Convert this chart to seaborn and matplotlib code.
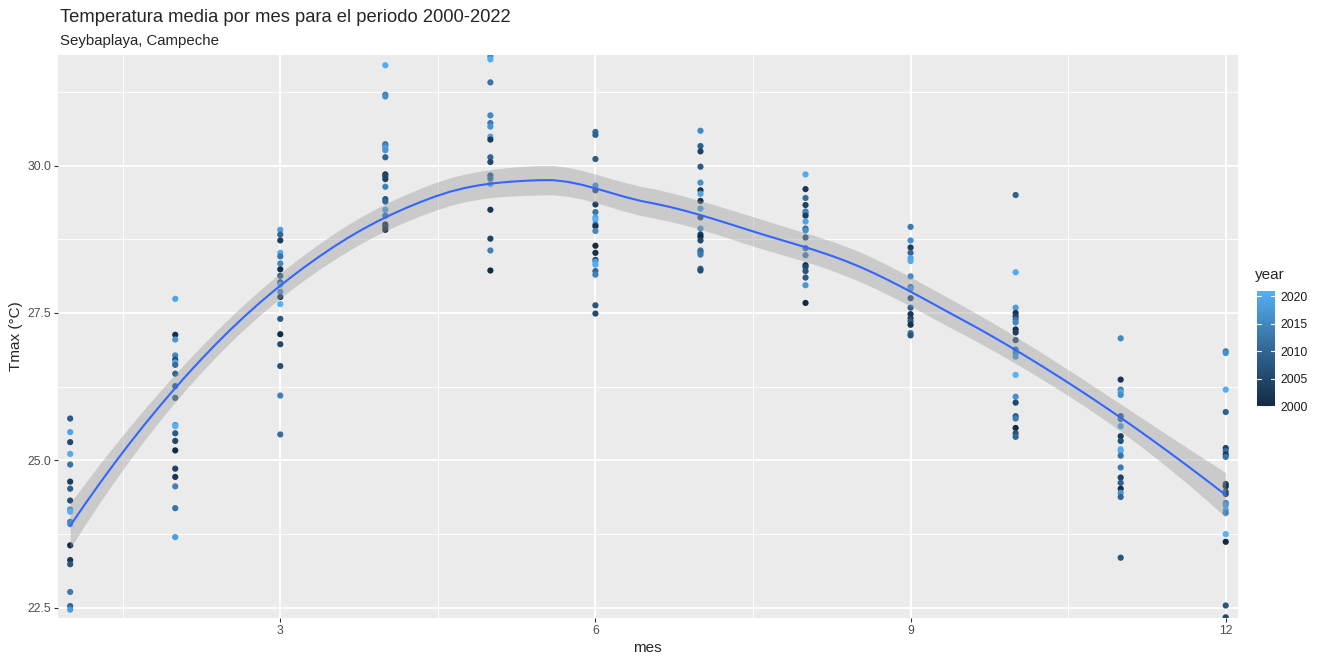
import numpy as np
import pandas as pd
import matplotlib
matplotlib.use("Agg")
import matplotlib.pyplot as plt
from matplotlib.colors import LinearSegmentedColormap
import seaborn as sns

# ---- data (monthly mean Tmax per year) ----
tmax_01 = [25.71, 25.48, 25.31, 25.11, 24.93, 24.64, 24.52, 24.32, 24.17, 24.13, 23.96, 23.92, 23.56, 23.31, 23.24, 22.77, 22.53, 22.47]
year_01 = [2008, 2019, 2005, 2020, 2012, 2003, 2009, 2006, 2017, 2021, 2014, 2016, 2000, 2002, 2007, 2013, 2010, 2018]
tmax_02 = [27.74, 27.13, 27.05, 26.78, 26.71, 26.66, 26.62, 26.47, 26.26, 26.06, 25.60, 25.58, 25.46, 25.33, 25.17, 24.86, 24.72, 24.56, 24.19, 23.70]
year_02 = [2019, 2001, 2017, 2015, 2006, 2020, 2011, 2010, 2007, 2009, 2016, 2021, 2008, 2005, 2000, 2004, 2002, 2014, 2012, 2018]
tmax_03 = [28.91, 28.83, 28.73, 28.52, 28.46, 28.34, 28.24, 28.13, 28.02, 27.98, 27.86, 27.77, 27.65, 27.40, 27.14, 26.97, 26.60, 26.10, 25.44]
year_03 = [2018, 2010, 2003, 2020, 2012, 2015, 2001, 2009, 2007, 2019, 2016, 2002, 2021, 2008, 2000, 2005, 2006, 2014, 2011]
tmax_04 = [31.70, 31.20, 31.17, 30.36, 30.33, 30.29, 30.26, 30.14, 29.85, 29.82, 29.77, 29.64, 29.43, 29.39, 29.25, 29.15, 29.00, 28.96, 28.91]
year_04 = [2020, 2013, 2016, 2011, 2015, 2019, 2017, 2009, 2002, 2005, 2004, 2014, 2007, 2010, 2018, 2012, 2001, 2003, 2000]
tmax_05 = [31.85, 31.80, 31.41, 30.85, 30.72, 30.66, 30.49, 30.44, 30.14, 30.06, 29.83, 29.78, 29.69, 29.25, 28.76, 28.56, 28.22]
year_05 = [2016, 2020, 2012, 2015, 2013, 2017, 2019, 2003, 2010, 2005, 2008, 2011, 2018, 2002, 2004, 2014, 2000]
tmax_06 = [30.57, 30.52, 30.11, 29.66, 29.58, 29.34, 29.21, 29.12, 29.08, 29.00, 28.97, 28.89, 28.64, 28.52, 28.40, 28.37, 28.32, 28.21, 28.15, 27.63, 27.49]
year_06 = [2011, 2009, 2008, 2016, 2006, 2003, 2012, 2019, 2021, 2013, 2002, 2015, 2000, 2001, 2004, 2018, 2020, 2010, 2014, 2007, 2005]
tmax_07 = [30.59, 30.33, 30.24, 29.98, 29.71, 29.58, 29.52, 29.40, 29.27, 29.12, 28.93, 28.83, 28.79, 28.73, 28.56, 28.53, 28.49, 28.25, 28.22]
year_07 = [2015, 2009, 2004, 2008, 2016, 2002, 2019, 2001, 2018, 2007, 2017, 2003, 2000, 2005, 2012, 2011, 2013, 2010, 2006]
tmax_08 = [29.85, 29.60, 29.45, 29.33, 29.22, 29.19, 29.15, 29.05, 28.93, 28.90, 28.78, 28.60, 28.48, 28.31, 28.28, 28.21, 28.10, 27.97, 27.67]
year_08 = [2020, 2002, 2011, 2004, 2013, 2015, 2003, 2019, 2010, 2016, 2006, 2012, 2014, 2001, 2005, 2007, 2008, 2017, 2000]
tmax_09 = [28.96, 28.73, 28.61, 28.52, 28.43, 28.38, 28.12, 27.94, 27.91, 27.75, 27.59, 27.48, 27.41, 27.36, 27.30, 27.16, 27.12]
year_09 = [2013, 2016, 2003, 2010, 2019, 2020, 2015, 2011, 2018, 2006, 2009, 2002, 2004, 2008, 2001, 2012, 2007]
tmax_10 = [29.50, 28.19, 27.59, 27.50, 27.44, 27.39, 27.34, 27.22, 27.17, 27.04, 26.88, 26.82, 26.76, 26.45, 26.08, 25.98, 25.75, 25.71, 25.55, 25.46, 25.40]
year_10 = [2009, 2020, 2018, 2002, 2004, 2012, 2015, 2001, 2003, 2006, 2011, 2014, 2017, 2021, 2016, 2005, 2008, 2013, 2000, 2007, 2010]
tmax_11 = [27.07, 26.37, 26.20, 26.16, 26.11, 25.75, 25.70, 25.58, 25.41, 25.33, 25.19, 25.16, 25.08, 24.88, 24.71, 24.62, 24.52, 24.45, 24.38, 23.35]
year_11 = [2015, 2002, 2014, 2019, 2016, 2008, 2011, 2018, 2003, 2006, 2021, 2020, 2012, 2013, 2004, 2009, 2001, 2017, 2010, 2007]
tmax_12 = [26.85, 26.82, 26.20, 25.82, 25.21, 25.16, 25.10, 25.06, 24.60, 24.56, 24.47, 24.43, 24.28, 24.24, 24.16, 24.11, 23.75, 23.62, 22.54, 22.34]
year_12 = [2013, 2016, 2020, 2009, 2004, 2011, 2002, 2012, 2003, 2001, 2008, 2006, 2015, 2018, 2019, 2014, 2021, 2000, 2007, 2005]

x_ticks = [3, 6, 9, 12]
y_ticks = [22.5, 25.0, 27.5, 30.0]
y_tick_labels = ["22.5", "25.0", "27.5", "30.0"]
legend_ticks = [2000, 2005, 2010, 2015, 2020]

title = "Temperatura media por mes para el periodo 2000-2022"
subtitle = "Seybaplaya, Campeche"

tmax_all = [tmax_01, tmax_02, tmax_03, tmax_04, tmax_05, tmax_06,
            tmax_07, tmax_08, tmax_09, tmax_10, tmax_11, tmax_12]
year_all = [year_01, year_02, year_03, year_04, year_05, year_06,
            year_07, year_08, year_09, year_10, year_11, year_12]
rows = []
for m, (tv, yv) in enumerate(zip(tmax_all, year_all), start=1):
    assert len(tv) == len(yv)
    for t, yr in zip(tv, yv):
        rows.append((m, yr, t))
df = pd.DataFrame(rows, columns=["mes", "year", "tmax"])

# ---- loess (span 0.75, degree 2, kd-tree + Hermite interpolation, as R) ----
def local_rows(x, x0, span=0.75):
    n = len(x)
    q = int(np.floor(n * span))
    d = np.abs(x - x0)
    h = np.sort(d)[q - 1]
    u = np.clip(d / h, 0, 1)
    w = (1 - u ** 3) ** 3
    B = np.column_stack([np.ones(n), x - x0, (x - x0) ** 2])
    BW = B.T * w
    S = np.linalg.solve(BW @ B, BW)
    return S[0], S[1]          # value operator, slope operator


def kd_vertices(x, span=0.75, cell=0.2):
    xs_ = np.sort(x)
    n = len(xs_)
    fc = int(np.floor(n * span * cell))
    lo, hi = xs_[0], xs_[-1]
    marg = 0.005 * max(hi - lo, 1e-10)
    verts = {lo - marg, hi + marg}

    def split(l, u, vlo, vhi):
        if u - l + 1 <= fc:
            return
        m = (l + u) // 2
        offs = [0]
        k = 1
        while k < n:
            offs += [k, -k]
            k += 1
        mm = None
        for off in offs:
            j = m + off
            if j >= u or j < l:
                break
            if xs_[j] != xs_[j + 1]:
                mm = j
                break
        if mm is None:
            return
        if vlo == xs_[mm] or vhi == xs_[mm]:
            return
        t = 0.5 * (xs_[mm] + xs_[mm + 1])
        verts.add(t)
        split(l, mm, vlo, t)
        split(mm + 1, u, t, vhi)

    split(0, n - 1, lo - marg, hi + marg)
    return np.array(sorted(verts))


def loess_interp_operator(x, x_eval, span=0.75):
    V = kd_vertices(x, span)
    vals, slopes = zip(*[local_rows(x, v, span) for v in V])
    vals, slopes = np.array(vals), np.array(slopes)
    out = []
    for xe in x_eval:
        i = np.clip(np.searchsorted(V, xe) - 1, 0, len(V) - 2)
        a, b = V[i], V[i + 1]
        hh = b - a
        t = (xe - a) / hh
        h00 = 2 * t ** 3 - 3 * t ** 2 + 1
        h10 = t ** 3 - 2 * t ** 2 + t
        h01 = -2 * t ** 3 + 3 * t ** 2
        h11 = t ** 3 - t ** 2
        out.append(h00 * vals[i] + h10 * hh * slopes[i] +
                   h01 * vals[i + 1] + h11 * hh * slopes[i + 1])
    return np.array(out)


xv = df["mes"].to_numpy(float)
yv = df["tmax"].to_numpy(float)
n = len(xv)
L = loess_interp_operator(xv, xv)
res = yv - L @ yv
IL = np.eye(n) - L
M = IL.T @ IL
d1 = np.trace(M)
d2 = np.trace(M @ M)
s = np.sqrt(np.sum(res ** 2) / d1)
dfree = d1 ** 2 / d2
z = 1.959964
tq = z + (z ** 3 + z) / (4 * dfree) + (5 * z ** 5 + 16 * z ** 3 + 3 * z) / (96 * dfree ** 2)
xs = np.linspace(xv.min(), xv.max(), 80)
Ls = loess_interp_operator(xv, xs)
fit = Ls @ yv
se = s * np.sqrt(np.sum(Ls ** 2, axis=1))
smooth = pd.DataFrame({"mes": xs, "fit": fit, "lo": fit - tq * se, "hi": fit + tq * se})

# ---- style ----
sns.set_theme(style="darkgrid")
plt.rcParams["font.family"] = ["Liberation Sans", "DejaVu Sans"]

cmap = LinearSegmentedColormap.from_list("gg", ["#132B43", "#336A98", "#56B1F7"])
ymin_year, ymax_year = df["year"].min(), df["year"].max()

W, H = 1337, 660
fig = plt.figure(figsize=(W / 100, H / 100), dpi=100)
fig.patch.set_facecolor("white")
ax = fig.add_axes([58 / W, (H - 618) / H, 1179.7 / W, 563 / H])
ax.set_facecolor("#EBEBEB")

sns.scatterplot(data=df, x="mes", y="tmax", hue="year", palette=cmap,
                hue_norm=(ymin_year, ymax_year), s=20, linewidth=0,
                legend=False, ax=ax, zorder=3)
ax.fill_between(smooth["mes"], smooth["lo"], smooth["hi"], color="#999999",
                alpha=0.4, linewidth=0, zorder=4)
sns.lineplot(data=smooth, x="mes", y="fit", color="#3366FF", linewidth=1.5,
             ax=ax, zorder=5)

ax.set_xlim(0.884, 12.114)
ax.set_ylim(22.328, 31.874)
ax.set_xticks(x_ticks)
ax.set_xticklabels([str(v) for v in x_ticks])
ax.set_yticks(y_ticks)
ax.set_yticklabels(y_tick_labels)
ax.set_xticks([1.5, 4.5, 7.5, 10.5], minor=True)
ax.set_yticks([23.75, 26.25, 28.75, 31.25], minor=True)
ax.grid(which="major", color="white", linewidth=1.3)
ax.grid(which="minor", color="white", linewidth=0.65)
for sp in ax.spines.values():
    sp.set_visible(False)
ax.tick_params(which="major", length=2.75, width=0.8, color="#333333",
               labelsize=8.8, labelcolor="#4D4D4D", pad=2.2,
               bottom=True, left=True, direction="out")
ax.tick_params(which="minor", length=0)
ax.set_xlabel("")
ax.set_ylabel("")

fig.text(647.5 / W, 1 - 648 / H, "mes", fontsize=11, ha="center", va="center")
fig.text(16 / W, 1 - 336 / H, "Tmax (°C)", fontsize=11, ha="center",
         va="center", rotation=90)
fig.text(60 / W, 1 - 17 / H, title, fontsize=13.2, ha="left", va="center")
fig.text(60 / W, 1 - 41 / H, subtitle, fontsize=10.8, ha="left", va="center")

# ---- colourbar legend ----
cax = fig.add_axes([1257 / W, (H - 406.5) / H, 18 / W, 115.5 / H])
grad = np.linspace(ymin_year, ymax_year, 300)[:, None]
cax.imshow(grad, aspect="auto", cmap=cmap, origin="lower",
           extent=[0, 1, ymin_year, ymax_year],
           vmin=ymin_year, vmax=ymax_year)
cax.set_xlim(0, 1)
cax.set_ylim(ymin_year, ymax_year)
for t in legend_ticks:
    cax.plot([0, 0.2], [t, t], color="white", lw=0.8)
    cax.plot([0.8, 1], [t, t], color="white", lw=0.8)
cax.set_xticks([])
cax.yaxis.tick_right()
cax.set_yticks(legend_ticks)
cax.set_yticklabels([str(t) for t in legend_ticks])
cax.tick_params(axis="y", length=0, labelsize=8.8, labelcolor="#1A1A1A", pad=4)
cax.grid(False)
for sp in cax.spines.values():
    sp.set_visible(False)
fig.text(1255 / W, 1 - 275 / H, "year", fontsize=11, ha="left", va="center")

fig.savefig("out.png", dpi=100)
